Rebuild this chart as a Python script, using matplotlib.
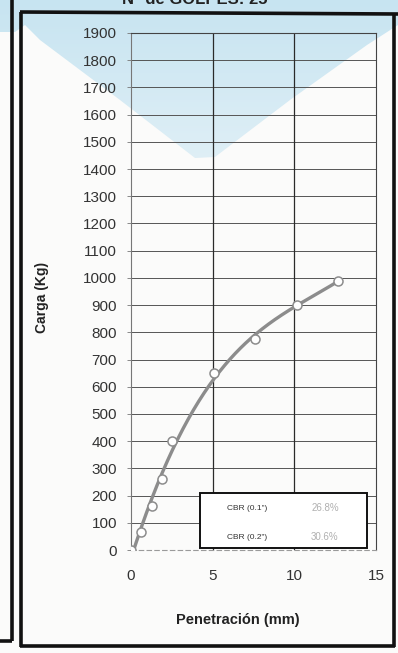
import numpy as np
import matplotlib
matplotlib.use("Agg")
import matplotlib.pyplot as plt
from matplotlib.patches import Polygon, Rectangle
from matplotlib.colors import LinearSegmentedColormap

plt.rcParams['font.family'] = ['Liberation Sans', 'DejaVu Sans']

# Ensayo CBR: penetración vs carga
penetracion_mm = [0.0, 0.64, 1.27, 1.91, 2.54, 5.08, 7.62, 10.16, 12.70]
carga_kg = [0, 65, 160, 262, 400, 650, 775, 900, 990]
cbr_labels = ['CBR (0.1")', 'CBR (0.2")']
cbr_values = ['26.8%', '30.6%']
x_ticks = [0, 5, 10, 15]
y_ticks = list(range(0, 2000, 100))

W, H = 398, 653
fig = plt.figure(figsize=(W / 100, H / 100), dpi=100)
fig.patch.set_facecolor('#fbfbfa')

# background layer in pixel coordinates (frame + light tint)
bg = fig.add_axes([0, 0, 1, 1], zorder=0)
bg.set_xlim(0, W)
bg.set_ylim(H, 0)
bg.axis('off')

haze_verts = [(0, 0), (W, 0), (W, 25), (367, 45), (290, 100), (215, 157),
              (195, 158), (120, 100), (40, 40), (25, 25), (15, 32), (0, 32)]
haze_cmap = LinearSegmentedColormap.from_list('haze', ['#c7e4f1', '#dfeff6'])
grad = np.linspace(0, 1, 256).reshape(-1, 1)
im = bg.imshow(grad, extent=[0, W, 160, 0], cmap=haze_cmap, aspect='auto', zorder=0)
haze = Polygon(haze_verts, closed=True, facecolor='none', edgecolor='none',
               transform=bg.transData)
bg.add_patch(haze)
im.set_clip_path(haze)

frame_kw = dict(color='#111111', lw=2.6, solid_capstyle='butt', zorder=2)
bg.plot([12, 12], [0, 641], **frame_kw)
bg.plot([0, 12], [641, 641], **frame_kw)
bg.plot([21, 21], [12, 647], **frame_kw)
bg.plot([20, W], [12, 14], **frame_kw)
bg.plot([394, 394], [13, 647], **frame_kw)
bg.plot([20, 395], [646, 646], **frame_kw)

bg.text(195, 4, 'N° de GOLPES: 25', ha='center', va='baseline',
        fontsize=12, fontweight='bold', color='#222222')

# main chart
ax = fig.add_axes([131 / W, 1 - 550 / H, 245 / W, 517 / H], zorder=1)
ax.set_facecolor('none')
ax.set_xlim(0, 15)
ax.set_ylim(0, 1900)

for y in y_ticks[1:]:
    ax.axhline(y, color='#555555', lw=0.7, zorder=1)
for x in x_ticks[1:-1]:
    ax.axvline(x, color='#2a2a2a', lw=0.9, zorder=1)

for side in ['top', 'right']:
    ax.spines[side].set_color('#444444')
    ax.spines[side].set_linewidth(0.8)
ax.spines['left'].set_color('#777777')
ax.spines['left'].set_linewidth(0.8)
ax.spines['bottom'].set_color('#9a9a9a')
ax.spines['bottom'].set_linewidth(0.8)
ax.spines['bottom'].set_linestyle((0, (4, 3)))

ax.set_xticks(x_ticks)
ax.set_yticks(y_ticks)
ax.tick_params(axis='y', direction='out', length=3, width=0.6, color='#777777',
               labelsize=11, labelcolor='#333333', pad=7)
ax.tick_params(axis='x', length=0, labelsize=11, labelcolor='#333333', pad=14)

# trend curve fitted to the measured points
coef = np.polyfit(penetracion_mm, carga_kg, 3)
xs = np.linspace(0, max(penetracion_mm), 200)
ax.plot(xs, np.polyval(coef, xs), color='#8c8c8c', lw=2.4, zorder=3,
        solid_capstyle='round')
ax.plot(penetracion_mm, carga_kg, 'o', mfc='white', mec='#8c8c8c', ms=6.5,
        mew=1.1, zorder=4)

# CBR summary box
ax.add_patch(Rectangle((0.28, 0.003), 0.683, 0.107, transform=ax.transAxes,
                       facecolor='white', edgecolor='#111111', lw=1.4, zorder=5))
for i, (lab, val) in enumerate(zip(cbr_labels, cbr_values)):
    yy = 0.081 - i * 0.056
    ax.text(0.392, yy, lab, transform=ax.transAxes, fontsize=6,
            color='#333333', va='center', zorder=6)
    ax.text(0.735, yy, val, transform=ax.transAxes, fontsize=7,
            color='#b0b0b0', va='center', zorder=6)

fig.text(42 / W, 1 - 297 / H, 'Carga (Kg)', rotation=90, ha='center',
         va='center', fontsize=10, fontweight='bold', color='#222222')
fig.text(238 / W, 1 - 620 / H, 'Penetración (mm)', ha='center', va='center',
         fontsize=10.5, fontweight='bold', color='#222222')

fig.savefig('out.png', dpi=100, facecolor=fig.get_facecolor())
